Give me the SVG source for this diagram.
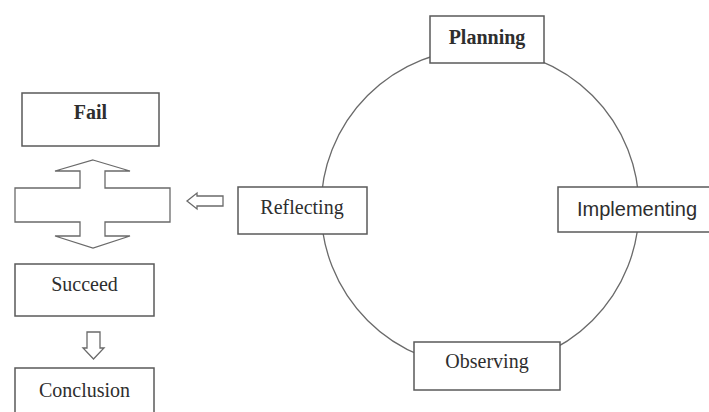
<svg xmlns="http://www.w3.org/2000/svg" width="709" height="412" viewBox="0 0 709 412">
<style>
.box{fill:#fff;stroke:#5a5a5a;stroke-width:1.5}
.arr{fill:#fff;stroke:#6a6a6a;stroke-width:1.3;stroke-linejoin:miter}
.t{font-family:"Liberation Serif","Times New Roman",serif;font-size:20px;fill:#2e2e2e;text-anchor:middle}
.s{font-family:"Liberation Sans",Arial,sans-serif;font-size:20px;fill:#2e2e2e;text-anchor:middle}
</style>
<rect width="709" height="412" fill="#fff"/>
<g id="connectors">
<circle cx="480" cy="208" r="159" fill="none" stroke="#6a6a6a" stroke-width="1.3"/>
<polygon class="arr" points="93,160 130,171 105,171 105,188 170,188 170,222 105,222 105,236 130,236 93,248 55,236 80,236 80,222 15,222 15,188 80,188 80,171 55,171"/>
<polygon class="arr" points="187,201 197,193 197,196 223,196 223,206 197,206 197,209"/>
<polygon class="arr" points="87,332 100,332 100,348 104,348 93.5,359 83,348 87,348"/>
</g>
<g id="planning"><rect class="box" x="430" y="16" width="114" height="47"/><text class="t" x="487" y="44" font-weight="bold">Planning</text></g>
<g id="implementing"><rect class="box" x="558" y="187" width="160" height="45"/><text class="s" x="637" y="216">Implementing</text></g>
<g id="observing"><rect class="box" x="414" y="342" width="146" height="48"/><text class="t" x="487" y="368" font-size="21">Observing</text></g>
<g id="reflecting"><rect class="box" x="238" y="187" width="129" height="47"/><text class="t" x="302" y="214" font-size="21">Reflecting</text></g>
<g id="fail"><rect class="box" x="22" y="93" width="137" height="53"/><text class="t" x="90.5" y="119" font-weight="bold">Fail</text></g>
<g id="succeed"><rect class="box" x="15" y="264" width="139" height="52"/><text class="t" x="84.5" y="291">Succeed</text></g>
<g id="conclusion"><rect class="box" x="15" y="368" width="139" height="60"/><text class="t" x="84.5" y="397" font-size="21">Conclusion</text></g>
</svg>
